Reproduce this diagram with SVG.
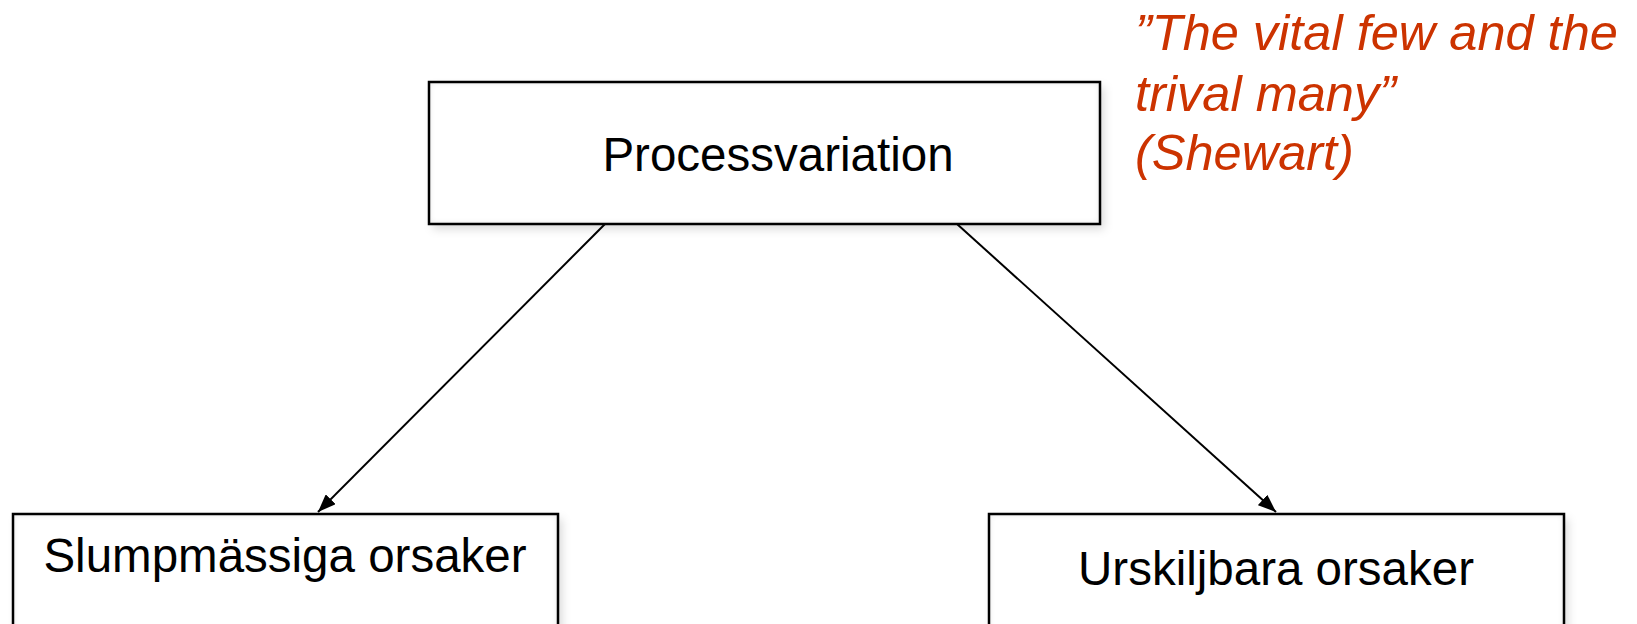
<svg xmlns="http://www.w3.org/2000/svg" width="1637" height="624" viewBox="0 0 1637 624">
  <style>
    .box { fill: #ffffff; stroke: none; }
    .edge { fill: none; stroke: #000000; stroke-width: 2.5; }
    .inner { fill: none; stroke: #dedede; stroke-width: 8; filter: url(#blur); }
    .lbl { font-family: "Liberation Sans", Arial, sans-serif; font-size: 47.5px; fill: #000000; text-anchor: middle; }
    .quote { font-family: "Liberation Sans", Arial, sans-serif; font-size: 50.5px; font-style: italic; fill: #CC3300; }
    .conn { stroke: #000000; stroke-width: 2; fill: none; marker-end: url(#arrow); }
  </style>
  <defs>
    <filter id="shadow" x="-10%" y="-20%" width="130%" height="150%">
      <feGaussianBlur in="SourceAlpha" stdDeviation="5" result="b"/>
      <feOffset in="b" dx="4" dy="5" result="o"/>
      <feFlood flood-color="#000000" flood-opacity="0.15"/>
      <feComposite in2="o" operator="in" result="s"/>
      <feMerge><feMergeNode in="s"/><feMergeNode in="SourceGraphic"/></feMerge>
    </filter>
    <filter id="blur" x="-10%" y="-10%" width="120%" height="120%">
      <feGaussianBlur stdDeviation="3"/>
    </filter>
    <clipPath id="c1"><rect x="429" y="82" width="671" height="142"/></clipPath>
    <clipPath id="c2"><rect x="13" y="514" width="545" height="140"/></clipPath>
    <clipPath id="c3"><rect x="989" y="514" width="575" height="140"/></clipPath>
    <marker id="arrow" viewBox="0 0 18 14" refX="18" refY="7" markerWidth="18" markerHeight="14" markerUnits="userSpaceOnUse" orient="auto">
      <path d="M0,0 L18,7 L0,14 Z" fill="#000000"/>
    </marker>
  </defs>

  <g id="connectors">
    <line class="conn" x1="605" y1="224" x2="318" y2="512"/>
    <line class="conn" x1="957" y1="224" x2="1276" y2="512"/>
  </g>

  <g id="node-processvariation">
    <rect class="box" x="429" y="82" width="671" height="142" filter="url(#shadow)"/>
    <g clip-path="url(#c1)"><rect class="inner" x="425" y="78" width="679" height="150"/></g>
    <rect class="edge" x="429" y="82" width="671" height="142"/>
    <text class="lbl" x="778" y="171">Processvariation</text>
  </g>

  <g id="node-slumpmassiga">
    <rect class="box" x="13" y="514" width="545" height="140" filter="url(#shadow)"/>
    <g clip-path="url(#c2)"><rect class="inner" x="9" y="510" width="553" height="148"/></g>
    <rect class="edge" x="13" y="514" width="545" height="140"/>
    <text class="lbl" x="285" y="572">Slumpmässiga orsaker</text>
  </g>

  <g id="node-urskiljbara">
    <rect class="box" x="989" y="514" width="575" height="140" filter="url(#shadow)"/>
    <g clip-path="url(#c3)"><rect class="inner" x="985" y="510" width="583" height="148"/></g>
    <rect class="edge" x="989" y="514" width="575" height="140"/>
    <text class="lbl" x="1276" y="585">Urskiljbara orsaker</text>
  </g>

  <g id="quote">
    <text class="quote" x="1135" y="50">”The vital few and the</text>
    <text class="quote" x="1135" y="111">trival many”</text>
    <text class="quote" x="1135" y="170">(Shewart)</text>
  </g>
</svg>
